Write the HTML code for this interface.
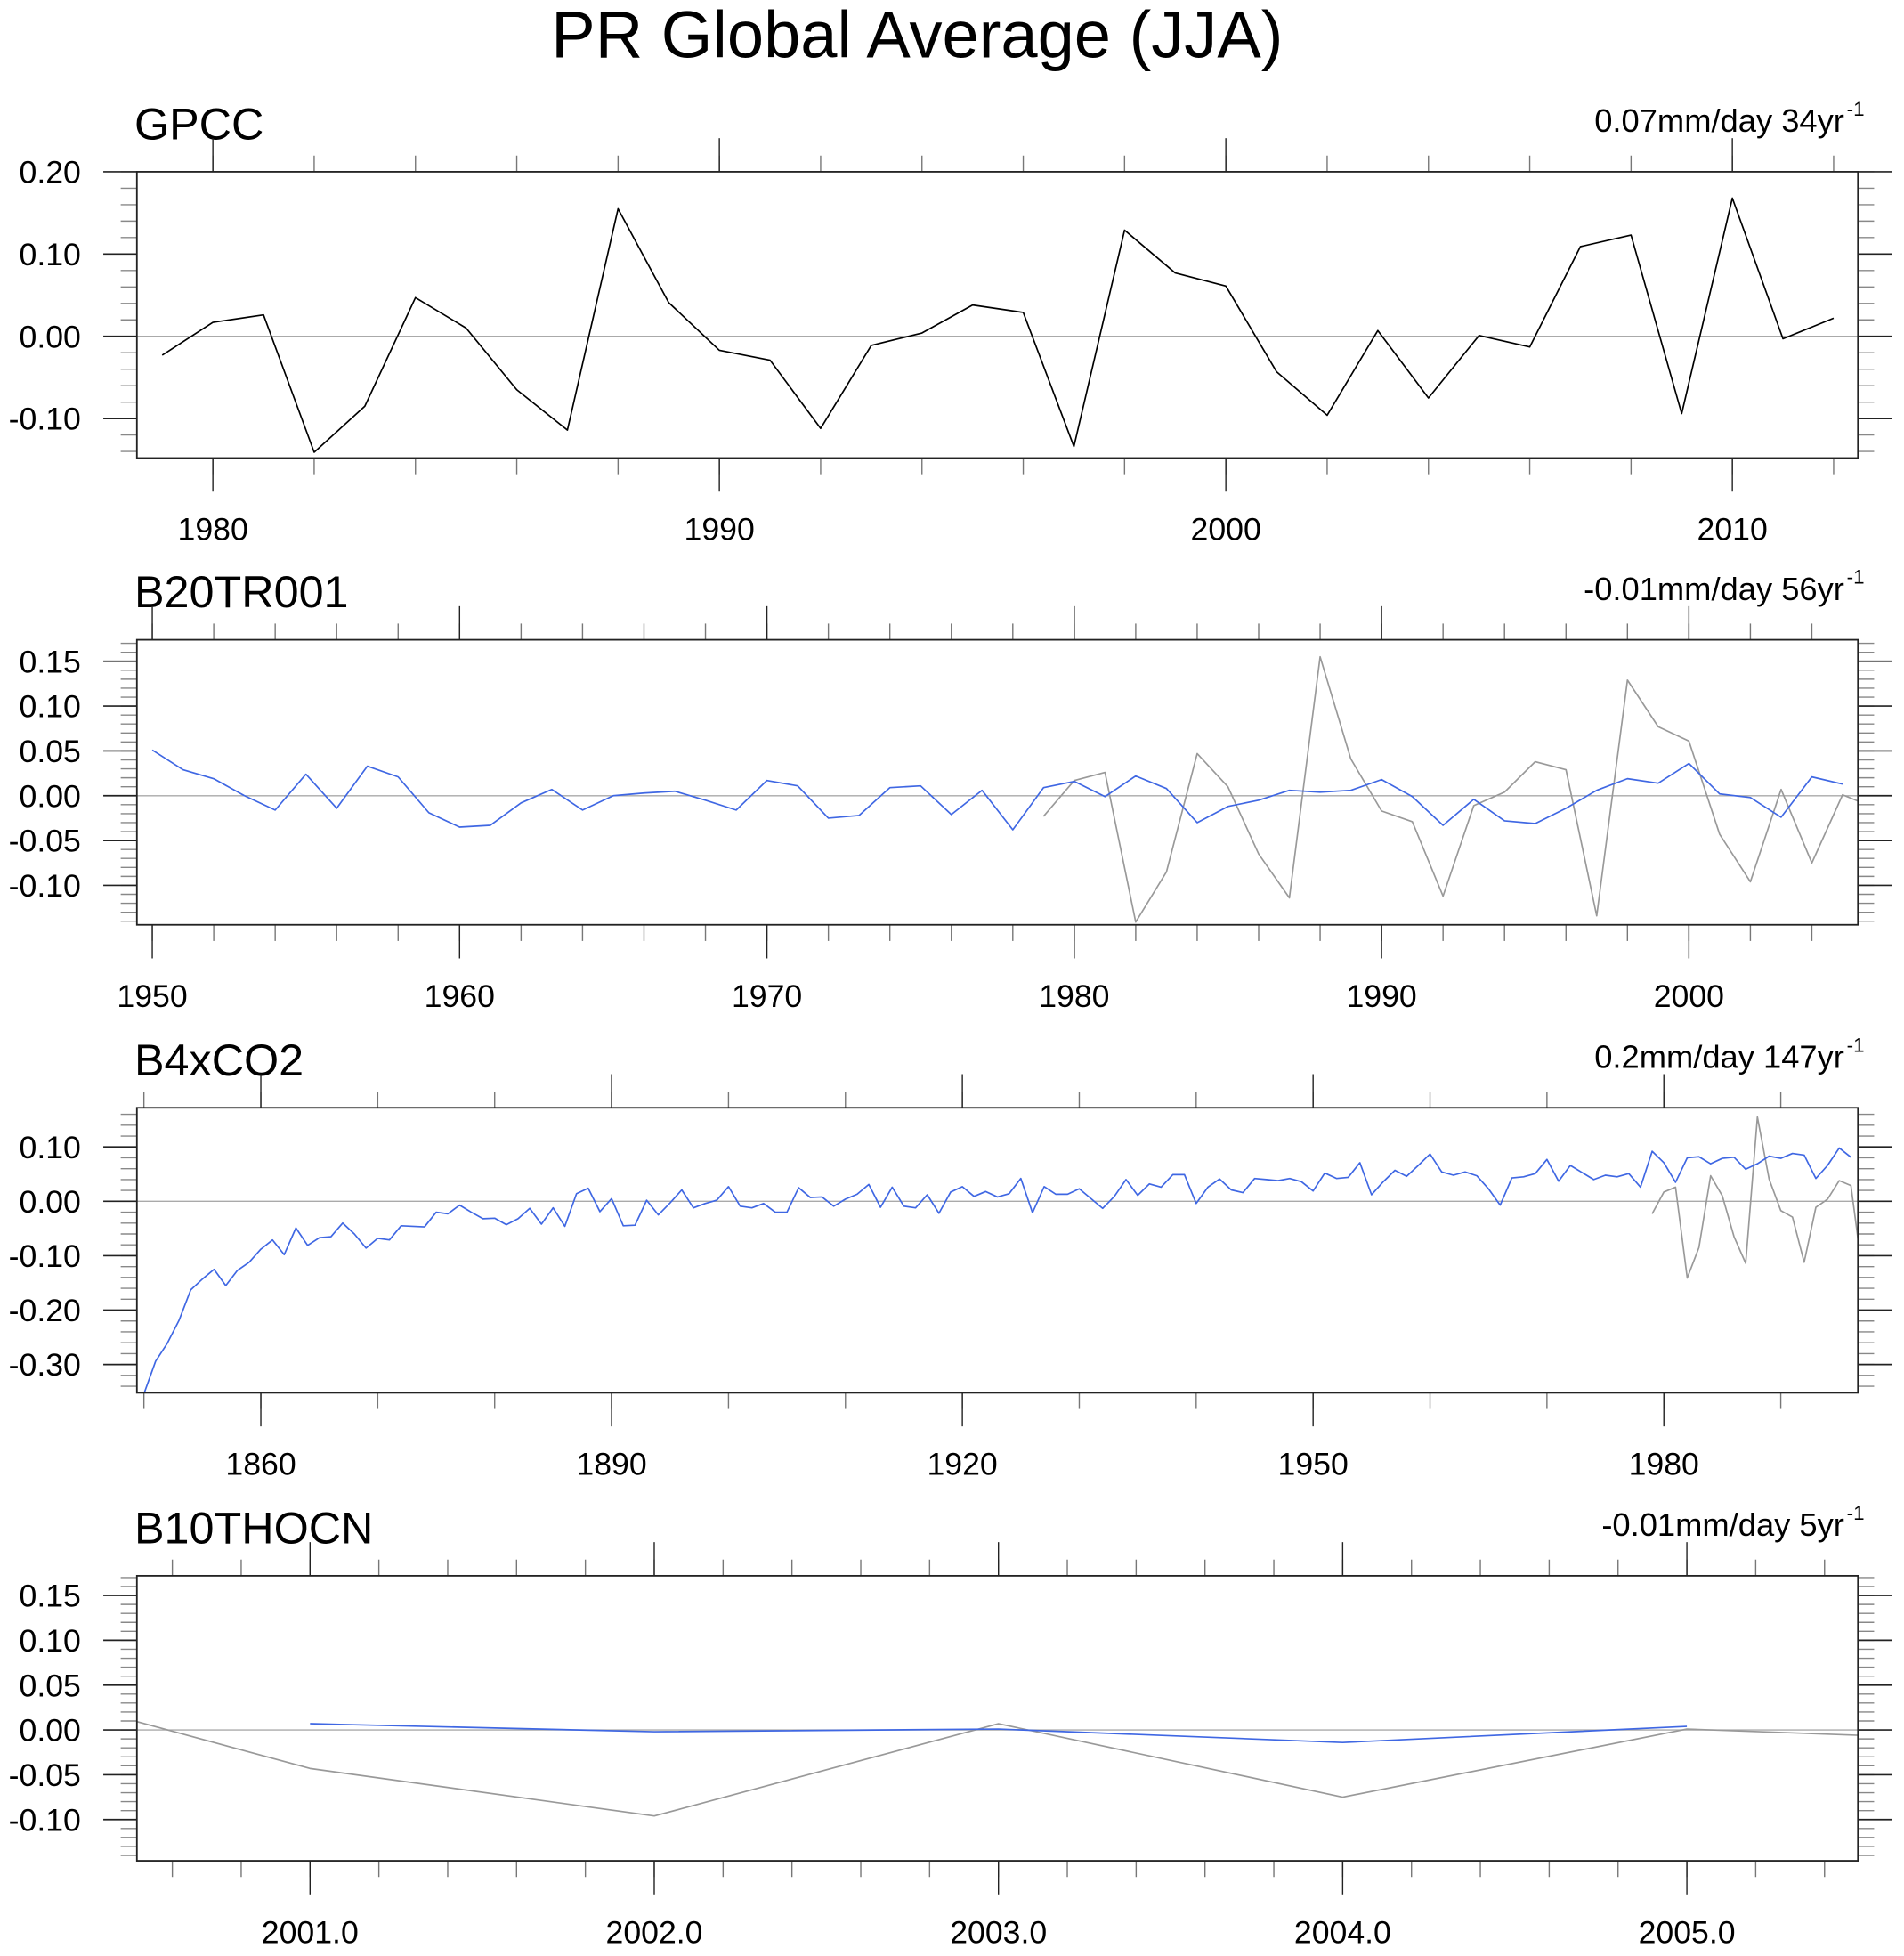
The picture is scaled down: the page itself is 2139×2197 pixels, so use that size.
<!DOCTYPE html>
<html><head><meta charset="utf-8"><title>PR Global Average (JJA)</title>
<style>
html,body{margin:0;padding:0;background:#fff;}
svg{display:block;font-family:"Liberation Sans",Arial,sans-serif;}
</style></head>
<body>
<svg id="chart" width="2139" height="2197" viewBox="0 0 1530 1571.5" xmlns="http://www.w3.org/2000/svg">
<text x="737" y="46" font-size="53" text-anchor="middle">PR Global Average (JJA)</text>
</svg>
<script>
// GPCC observed (1979-2012)
const gpccYears = [1979,1980,1981,1982,1983,1984,1985,1986,1987,1988,1989,1990,1991,1992,1993,1994,1995,1996,1997,1998,1999,2000,2001,2002,2003,2004,2005,2006,2007,2008,2009,2010,2011,2012];
const gpccValues = [-0.023,0.017,0.026,-0.141,-0.085,0.047,0.010,-0.065,-0.114,0.155,0.041,-0.017,-0.029,-0.112,-0.011,0.004,0.038,0.029,-0.134,0.129,0.077,0.061,-0.043,-0.096,0.007,-0.075,0.001,-0.013,0.109,0.123,-0.094,0.168,-0.003,0.022];
// B20TR001 (1950-2005)
const b20Start = 1950;
const b20Values = [0.051,0.029,0.019,0.0,-0.016,0.024,-0.014,0.033,0.021,-0.019,-0.035,-0.033,-0.008,0.007,-0.016,0.0,0.003,0.005,-0.005,-0.016,0.017,0.011,-0.025,-0.022,0.009,0.011,-0.021,0.006,-0.038,0.009,0.016,-0.001,0.022,0.008,-0.030,-0.012,-0.005,0.006,0.004,0.006,0.018,-0.001,-0.033,-0.004,-0.028,-0.031,-0.014,0.006,0.019,0.014,0.036,0.002,-0.002,-0.024,0.021,0.013];
// B4xCO2 (1850-1996)
const b4Start = 1850;
const b4Values = [-0.354,-0.294,-0.261,-0.219,-0.163,-0.143,-0.125,-0.155,-0.127,-0.112,
-0.088,-0.071,-0.098,-0.049,-0.081,-0.067,-0.065,-0.040,-0.060,-0.086,
-0.068,-0.071,-0.045,-0.046,-0.047,-0.020,-0.023,-0.007,-0.020,-0.032,
-0.031,-0.043,-0.032,-0.013,-0.042,-0.012,-0.046,0.014,0.024,-0.019,
0.005,-0.045,-0.044,0.002,-0.025,-0.003,0.021,-0.012,-0.004,0.002,
0.027,-0.009,-0.012,-0.004,-0.020,-0.020,0.025,0.007,0.008,-0.009,
0.004,0.013,0.031,-0.011,0.026,-0.009,-0.012,0.012,-0.022,0.017,
0.027,0.009,0.018,0.008,0.014,0.042,-0.021,0.027,0.013,0.013,
0.023,0.005,-0.013,0.009,0.040,0.011,0.032,0.026,0.049,0.049,
-0.004,0.026,0.041,0.021,0.016,0.042,0.040,0.038,0.042,0.036,
0.019,0.052,0.042,0.044,0.071,0.012,0.036,0.057,0.046,0.066,
0.087,0.054,0.048,0.054,0.047,0.023,-0.007,0.043,0.045,0.051,
0.077,0.037,0.066,0.053,0.040,0.048,0.045,0.051,0.026,0.092,
0.071,0.035,0.080,0.082,0.069,0.079,0.081,0.059,0.069,0.083,
0.079,0.088,0.085,0.042,0.066,0.098,0.081];
// B10THOCN (2001-2005)
const b10Years = [2001,2002,2003,2004,2005];
const b10Values = [0.007,-0.002,0.001,-0.014,0.004];
// Axis tick labels
const p1XLabels = [1980,1990,2000,2010];
const p2XLabels = [1950,1960,1970,1980,1990,2000];
const p3XLabels = [1860,1890,1920,1950,1980];
const p4XLabels = ["2001.0","2002.0","2003.0","2004.0","2005.0"];
const p1YLabels = ["0.20","0.10","0.00","-0.10"];
const p2YLabels = ["0.15","0.10","0.05","0.00","-0.05","-0.10"];
const p3YLabels = ["0.10","0.00","-0.10","-0.20","-0.30"];
const p4YLabels = ["0.15","0.10","0.05","0.00","-0.05","-0.10"];

const NS = "http://www.w3.org/2000/svg";
const svg = document.getElementById('chart');
const L = 110, R = 1493;
function mk(tag, attrs, parent){
  const e = document.createElementNS(NS, tag);
  for (const k in attrs) e.setAttribute(k, attrs[k]);
  (parent||svg).appendChild(e);
  return e;
}
function range(a,b,step){const r=[];for(let v=a;v<=b+1e-9;v+=step)r.push(+v.toFixed(6));return r;}

function panel(cfg){
  const g = mk('g', {});
  
  
  const T = cfg.top, B = cfg.bottom;
  const xs = v => L + (v - cfg.xmin) / (cfg.xmax - cfg.xmin) * (R - L);
  const ys = v => B - (v - cfg.ymin) / (cfg.ymax - cfg.ymin) * (B - T);
  const clipId = 'clip-' + cfg.name;
  const cp = mk('clipPath', {id: clipId}, g);
  mk('rect', {x: L, y: T, width: R - L, height: B - T}, cp);

  const t = mk('text', {x: 108, y: T - 26, 'font-size': 36}, g);
  t.textContent = cfg.title;
  
  
  const st = mk('text', {x: 1482, y: T - 32, 'font-size': 26, 'text-anchor': 'end'}, g);
  st.textContent = cfg.sub;
  
  
  const sup = mk('text', {x: 1484, y: T - 45, 'font-size': 16}, g);
  sup.textContent = '-1';
  
  

  cfg.xMinor.forEach(v => {
    const x = xs(v);
    if (x < L - 0.5 || x > R + 0.5) return;
    mk('line', {x1: x, x2: x, y1: T, y2: T - 13, stroke: '#777', 'stroke-width': 1}, g);
    mk('line', {x1: x, x2: x, y1: B, y2: B + 13, stroke: '#777', 'stroke-width': 1}, g);
  });
  cfg.xMajor.forEach((v, i) => {
    const x = xs(v);
    mk('line', {x1: x, x2: x, y1: T, y2: T - 27, stroke: '#222', 'stroke-width': 1}, g);
    mk('line', {x1: x, x2: x, y1: B, y2: B + 27, stroke: '#222', 'stroke-width': 1}, g);
    const lb = mk('text', {x: x, y: B + 66, 'font-size': 25.5, 'text-anchor': 'middle'}, g);
    lb.textContent = cfg.xLabels[i];
    
    
  });
  cfg.yMinor.forEach(v => {
    const y = ys(v);
    if (y < T - 0.5 || y > B + 0.5) return;
    mk('line', {x1: L, x2: L - 13, y1: y, y2: y, stroke: '#888', 'stroke-width': 1}, g);
    mk('line', {x1: R, x2: R + 13, y1: y, y2: y, stroke: '#888', 'stroke-width': 1}, g);
  });
  cfg.yMajor.forEach((v, i) => {
    const y = ys(v);
    mk('line', {x1: L, x2: L - 27, y1: y, y2: y, stroke: '#222', 'stroke-width': 1.2}, g);
    mk('line', {x1: R, x2: R + 27, y1: y, y2: y, stroke: '#222', 'stroke-width': 1.2}, g);
    const lb = mk('text', {x: 65, y: y + 9, 'font-size': 25.5, 'text-anchor': 'end'}, g);
    lb.textContent = cfg.yLabels[i];
    
    
  });
  const z = mk('line', {x1: L, x2: R, y1: ys(0), y2: ys(0), stroke: '#aaa', 'stroke-width': 1}, g);
  
  

  cfg.series.forEach(s => {
    const pts = s.x.map((xv, i) => xs(xv).toFixed(2) + ',' + ys(s.y[i]).toFixed(2)).join(' ');
    const pl = mk('polyline', {points: pts, fill: 'none', stroke: s.color, 'stroke-width': 1.2, 'clip-path': 'url(#' + clipId + ')', 'stroke-linejoin': 'round'}, g);
    
    
  });
  const fr = mk('rect', {x: L, y: T, width: R - L, height: B - T, fill: 'none', stroke: '#222', 'stroke-width': 1.3}, g);
  
  
}
function yearsFrom(start, n){const r=[];for(let i=0;i<n;i++)r.push(start+i);return r;}
const GRAY = '#999', BLUE = '#3f67e3';

panel({name:'gpcc', title:'GPCC', sub:'0.07mm/day 34yr', top:138, bottom:368,
  xmin:1978.5, xmax:2012.48, ymin:-0.148, ymax:0.2,
  xMajor:[1980,1990,2000,2010], xLabels:p1XLabels, xMinor:range(1978,2012,2),
  yMajor:[0.2,0.1,0,-0.1], yLabels:p1YLabels, yMinor:range(-0.14,0.2,0.02),
  series:[{name:'gpcc-line', color:'#000', x:gpccYears, y:gpccValues}]});

panel({name:'b20tr001', title:'B20TR001', sub:'-0.01mm/day 56yr', top:514, bottom:743,
  xmin:1949.5, xmax:2005.5, ymin:-0.144, ymax:0.174,
  xMajor:[1950,1960,1970,1980,1990,2000], xLabels:p2XLabels, xMinor:range(1950,2004,2),
  yMajor:[0.15,0.1,0.05,0,-0.05,-0.1], yLabels:p2YLabels, yMinor:range(-0.14,0.17,0.01),
  series:[{name:'gpcc-reference-line', color:GRAY, x:gpccYears, y:gpccValues},
          {name:'b20tr001-line', color:BLUE, x:yearsFrom(b20Start,b20Values.length), y:b20Values}]});

panel({name:'b4xco2', title:'B4xCO2', sub:'0.2mm/day 147yr', top:890, bottom:1119,
  xmin:1849.4, xmax:1996.6, ymin:-0.352, ymax:0.172,
  xMajor:[1860,1890,1920,1950,1980], xLabels:p3XLabels, xMinor:range(1850,1990,10),
  yMajor:[0.1,0,-0.1,-0.2,-0.3], yLabels:p3YLabels, yMinor:range(-0.34,0.16,0.02),
  series:[{name:'gpcc-reference-line', color:GRAY, x:gpccYears, y:gpccValues},
          {name:'b4xco2-line', color:BLUE, x:yearsFrom(b4Start,b4Values.length), y:b4Values}]});

panel({name:'b10thocn', title:'B10THOCN', sub:'-0.01mm/day 5yr', top:1266, bottom:1495,
  xmin:2000.497, xmax:2005.497, ymin:-0.146, ymax:0.172,
  xMajor:[2001,2002,2003,2004,2005], xLabels:p4XLabels, xMinor:range(2000.6,2005.4,0.2),
  yMajor:[0.15,0.1,0.05,0,-0.05,-0.1], yLabels:p4YLabels, yMinor:range(-0.14,0.17,0.01),
  series:[{name:'gpcc-reference-line', color:GRAY, x:gpccYears, y:gpccValues},
          {name:'b10thocn-line', color:BLUE, x:b10Years, y:b10Values}]});
</script>
</body></html>
